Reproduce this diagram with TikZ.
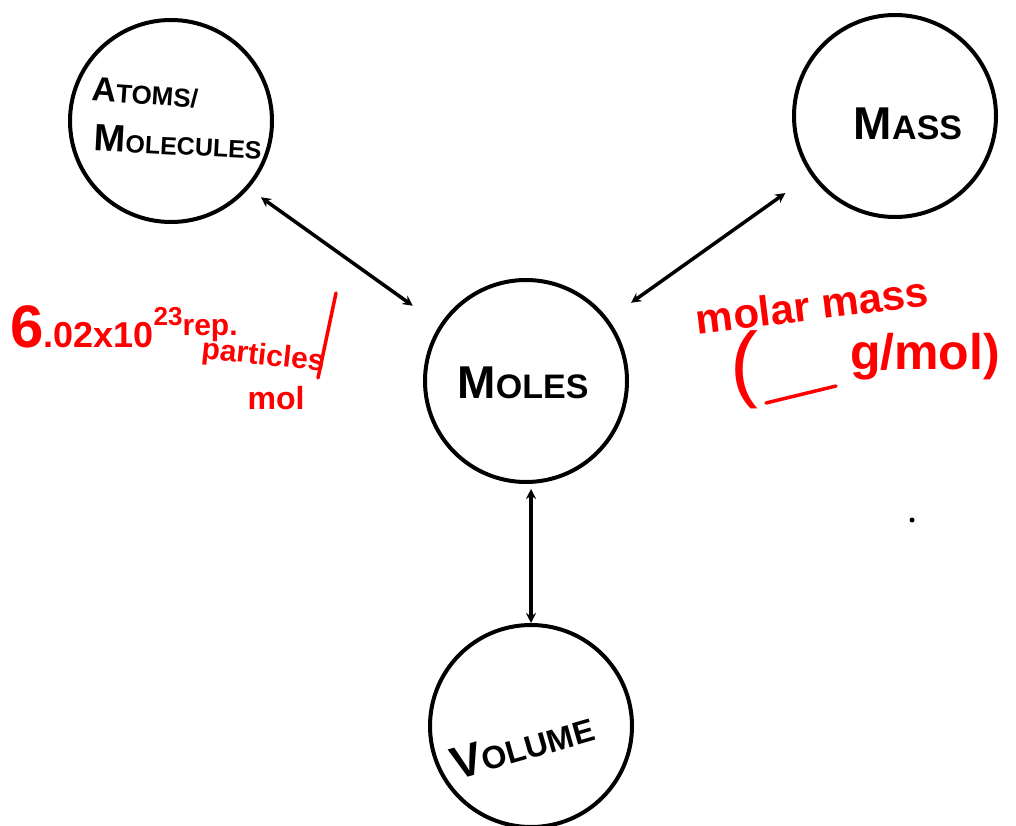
\documentclass[tikz,border=0pt]{standalone}
\usepackage{fontspec}
\setmainfont{Liberation Sans}
\usetikzlibrary{arrows.meta}
\tikzset{
  bubble/.style={circle, draw=black, line width=4pt, minimum size=202pt, inner sep=0pt},
  link/.style={line width=3.5pt, {Stealth[length=10pt,width=10pt]}-{Stealth[length=10pt,width=10pt]}},
  blk/.style={text=black, font=\bfseries, inner sep=0pt},
  rednote/.style={text=red, font=\bfseries, inner sep=0pt},
  redstroke/.style={draw=red, line width=3.5pt, line cap=round}
}
\newcommand{\bigM}[1]{{\fontsize{46}{46}\selectfont #1}}
\begin{document}
\begin{tikzpicture}[x=1pt,y=-1pt]
\useasboundingbox[fill=white] (0,0) rectangle (1016,826);
% circles
\node[bubble] (atoms) at (171,121) {};
\node[bubble] (mass) at (895,116) {};
\node[bubble] (moles) at (526,381) {};
\node[bubble] (volume) at (531,726) {};
% labels in circles
\node[blk, rotate=-4] (atomslbl1) at (145,93) {{\fontsize{34}{34}\selectfont A}{\fontsize{26}{26}\selectfont TOMS/}};
\node[blk, rotate=-3] (atomslbl2) at (178,142) {{\fontsize{38}{38}\selectfont M}{\fontsize{25}{25}\selectfont OLECULES}};
\node[blk] (moleslbl) at (523,383) {\bigM{M}{\fontsize{34}{34}\selectfont OLES}};
\node[blk] (masslbl) at (908,124) {\bigM{M}{\fontsize{34}{34}\selectfont ASS}};
\node[blk, rotate=16] (volumelbl) at (522,745) {\bigM{V}{\fontsize{32}{32}\selectfont OLUME}};
% connectors
\draw[link, shorten <=15pt, shorten >=33pt] (atoms.-41.5) -- (moles.147);
\draw[link, shorten <=28pt, shorten >=31pt] (moles.37) -- (mass.215);
\draw[link, shorten <=5pt] (moles.south -| volume.north) -- (volume.north);
% red notes left
\node[rednote, anchor=base west] (avog) at (10,347) {{\fontsize{60}{60}\selectfont 6}{\fontsize{36}{36}\selectfont .02x10}\raisebox{22pt}{\fontsize{26}{26}\selectfont 23}\raisebox{12pt}{\fontsize{30}{30}\selectfont rep.}};
\node[rednote, rotate=-6] (partic) at (263,357) {\fontsize{30}{30}\selectfont particles};
\node[rednote] (molunit) at (276,398) {\fontsize{32}{32}\selectfont mol};
\coordinate (slashtop) at (336,293);
\coordinate (slashbot) at (318,378);
\draw[redstroke] (slashtop) -- (slashbot);
% red notes right
\node[rednote, rotate=7] (molarmass) at (812,305) {\fontsize{42}{42}\selectfont molar mass};
\node[rednote, font=\mdseries] (lpar) at (744,370) {\fontsize{84}{84}\selectfont (};
\coordinate (blankstart) at (766,403);
\coordinate (blankend) at (836,386);
\draw[redstroke] (blankstart) -- (blankend);
\node[rednote] (gmol) at (925,357) {\fontsize{50}{50}\selectfont g/mol)};
% dot
\fill[black] (912,520) circle (2.5pt);
\end{tikzpicture}
\end{document}
